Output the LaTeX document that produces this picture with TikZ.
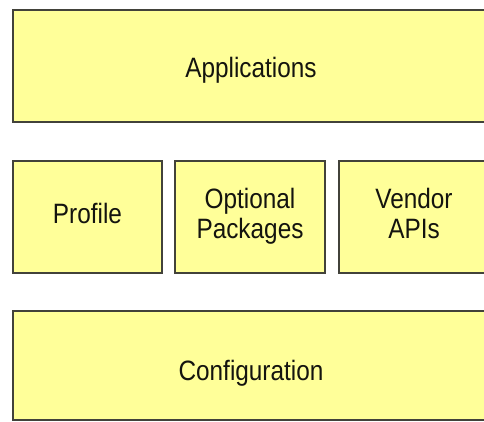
\documentclass[tikz,border=0pt]{standalone}
\usepackage{fontspec}
\setmainfont{Liberation Sans}
\definecolor{boxfill}{RGB}{255,255,153}
\definecolor{boxline}{RGB}{66,66,58}
\definecolor{txt}{RGB}{20,20,15}
\newcommand{\lbl}[2][0pt]{\raisebox{#1}[\height][\depth]{\scalebox{0.87}[1]{\begin{tabular}{@{}c@{}}#2\end{tabular}}}}
\begin{document}
\begin{tikzpicture}[x=1pt,y=1pt,
  layer/.style={draw=boxline, fill=boxfill, line width=2.8pt, inner sep=0pt,
    minimum height=112pt, text=txt, font=\fontsize{28}{30}\selectfont}]
\useasboundingbox (0,0) rectangle (484,421);
\clip (0,0) rectangle (484,421);
\fill[white] (0,0) rectangle (484,421);
\node[layer, minimum width=476pt] (app) at (251,355) {\lbl[-6pt]{Applications}};
\node[layer, minimum width=149pt] (prof) at (87.5,204) {\lbl{Profile}};
\node[layer, minimum width=150pt] (opt) at (250,204) {\lbl{Optional\\Packages}};
\node[layer, minimum width=150pt] (vend) at (414,204) {\lbl{Vendor\\APIs}};
\node[layer, minimum width=476pt, minimum height=109pt] (conf) at (251,55.5) {\lbl[-9pt]{Configuration}};
\end{tikzpicture}
\end{document}
